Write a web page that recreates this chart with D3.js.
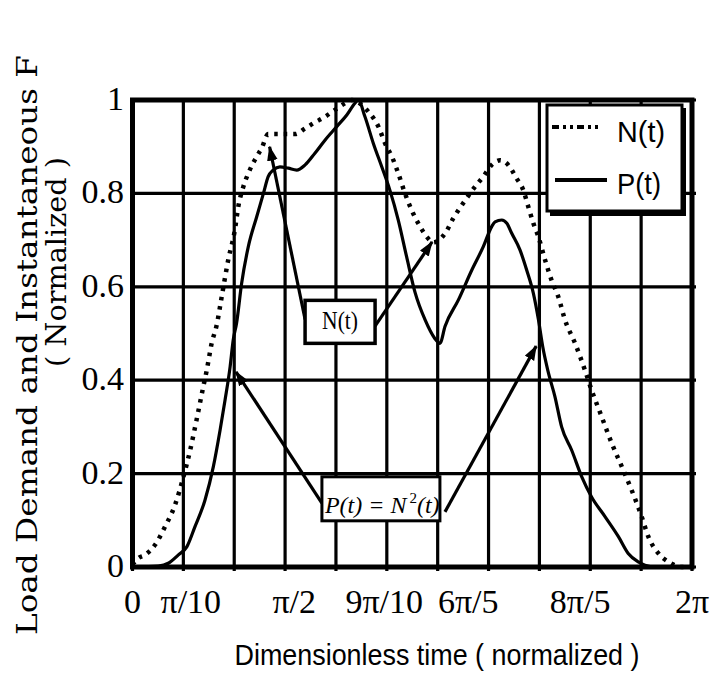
<!DOCTYPE html>
<html>
<head>
<meta charset="utf-8">
<script src="https://cdn.jsdelivr.net/npm/d3@7"></script>
<style>
body { margin: 0; background: #fff; }
</style>
</head>
<body>
<div id="chart"></div>
<script>
// time is kept in multiples of pi
var nTime = [0, 0.021, 0.045, 0.080, 0.116, 0.152, 0.182, 0.206, 0.229, 0.253, 0.265, 0.283, 0.301, 0.319, 0.342, 0.366, 0.378, 0.396, 0.414, 0.444, 0.462, 0.485, 0.581, 0.617, 0.646, 0.688, 0.724, 0.760, 0.784, 0.843, 0.879, 0.903, 0.927, 0.950, 0.974, 0.998, 1.028, 1.052, 1.075, 1.117, 1.147, 1.182, 1.224, 1.254, 1.284, 1.314, 1.343, 1.373, 1.397, 1.415, 1.433, 1.451, 1.475, 1.498, 1.522, 1.546, 1.582, 1.617, 1.641, 1.677, 1.713, 1.749, 1.784, 1.820, 1.844, 1.880, 1.916, 1.963, 2.0];
var nLoad = [0.005, 0.019, 0.026, 0.047, 0.086, 0.133, 0.193, 0.25, 0.315, 0.386, 0.42, 0.479, 0.518, 0.579, 0.657, 0.722, 0.771, 0.814, 0.843, 0.879, 0.897, 0.927, 0.927, 0.939, 0.95, 0.964, 0.979, 0.993, 1.0, 0.975, 0.943, 0.907, 0.879, 0.843, 0.8, 0.764, 0.729, 0.707, 0.695, 0.714, 0.747, 0.779, 0.814, 0.836, 0.861, 0.871, 0.861, 0.832, 0.807, 0.771, 0.736, 0.707, 0.657, 0.614, 0.579, 0.529, 0.479, 0.422, 0.379, 0.322, 0.265, 0.215, 0.165, 0.108, 0.065, 0.029, 0.011, 0.0, 0.0];

var pTime = [0.01, 0.092, 0.128, 0.164, 0.194, 0.223, 0.259, 0.289, 0.313, 0.331, 0.349, 0.360, 0.372, 0.390, 0.414, 0.444, 0.468, 0.485, 0.503, 0.527, 0.557, 0.587, 0.617, 0.652, 0.688, 0.730, 0.766, 0.795, 0.807, 0.831, 0.861, 0.891, 0.920, 0.950, 0.980, 1.010, 1.046, 1.080, 1.099, 1.117, 1.165, 1.213, 1.254, 1.284, 1.296, 1.320, 1.338, 1.356, 1.385, 1.409, 1.433, 1.451, 1.467, 1.485, 1.510, 1.534, 1.570, 1.606, 1.641, 1.689, 1.737, 1.772, 1.808, 1.832, 1.868, 2.0];
var pPower = [0.0, 0.002, 0.008, 0.026, 0.043, 0.086, 0.143, 0.215, 0.293, 0.358, 0.429, 0.486, 0.522, 0.607, 0.686, 0.75, 0.8, 0.836, 0.85, 0.857, 0.854, 0.85, 0.861, 0.886, 0.914, 0.943, 0.968, 0.993, 1.0, 0.964, 0.907, 0.857, 0.807, 0.743, 0.664, 0.588, 0.529, 0.49, 0.479, 0.515, 0.572, 0.636, 0.686, 0.729, 0.739, 0.743, 0.736, 0.714, 0.679, 0.636, 0.586, 0.53, 0.47, 0.42, 0.365, 0.30, 0.25, 0.193, 0.15, 0.108, 0.065, 0.029, 0.011, 0.004, 0.0, 0.0];

var xTickValues = [0, 0.1, 0.5, 0.9, 1.2, 1.6, 2];
var xTickLabels = ['0', 'π/10', 'π/2', '9π/10', '6π/5', '8π/5', '2π'];
var yTickValues = [0, 0.2, 0.4, 0.6, 0.8, 1];
var yTickLabels = ['0', '0.2', '0.4', '0.6', '0.8', '1'];
var seriesNames = ['N(t)', 'P(t)'];

// callouts: box centre and arrow ends in data units (t in multiples of pi)
var calloutBoxes = [
	{ label: 'N(t)', t: 0.742, v: 0.526 },
	{ label: 'P(t) = N2(t)', t: 0.888, v: 0.146 }
];
var calloutArrows = [
	{ t0: 0.617, v0: 0.53, t1: 0.49, v1: 0.90 },
	{ t0: 0.867, v0: 0.516, t1: 1.071, v1: 0.696 },
	{ t0: 0.677, v0: 0.137, t1: 0.370, v1: 0.418 },
	{ t0: 1.117, v0: 0.118, t1: 1.443, v1: 0.473 }
];

(function(){
	var width = 715, height = 677;
	var left = 132.5, right = 692, plotTop = 100, bottom = 567;

	var svg = d3.select('#chart').append('svg')
		.attr('width', width)
		.attr('height', height);

	var x = d3.scaleLinear().domain([0, 2 * Math.PI]).range([left, right]);
	var y = d3.scaleLinear().domain([0, 1]).range([bottom, plotTop]);

	var defs = svg.append('defs');
	defs.append('marker')
		.attr('id', 'head')
		.attr('viewBox', '0 0 14 10')
		.attr('refX', 13).attr('refY', 5)
		.attr('markerWidth', 15).attr('markerHeight', 11)
		.attr('markerUnits', 'userSpaceOnUse')
		.attr('orient', 'auto')
		.append('path')
		.attr('d', 'M0,0 L14,5 L0,10 Z')
		.attr('fill', 'black');

	// grid: 11 equal columns, rows at the y ticks
	var cols = d3.range(12).map(function(i){ return i * 2 * Math.PI / 11; });
	svg.append('g').selectAll('line')
		.data(cols).enter()
		.append('line')
		.attr('x1', function(d){ return x(d); })
		.attr('x2', function(d){ return x(d); })
		.attr('y1', plotTop)
		.attr('y2', bottom + 4)
		.attr('stroke', 'black')
		.attr('stroke-width', 3.2);
	svg.append('g').selectAll('line')
		.data(yTickValues).enter()
		.append('line')
		.attr('x1', left)
		.attr('x2', right + 4)
		.attr('y1', function(d){ return y(d); })
		.attr('y2', function(d){ return y(d); })
		.attr('stroke', 'black')
		.attr('stroke-width', 3.2);

	var line = d3.line()
		.x(function(d){ return x(d[0] * Math.PI); })
		.y(function(d){ return y(d[1]); })
		.curve(d3.curveMonotoneX);

	var nPoints = nTime.map(function(t, i){ return [t, nLoad[i]]; });
	var pPoints = pTime.map(function(t, i){ return [t, pPower[i]]; });

	svg.append('path')
		.attr('d', line(nPoints))
		.attr('fill', 'none')
		.attr('stroke', 'black')
		.attr('stroke-width', 4.5)
		.attr('stroke-dasharray', '3.5,6');
	svg.append('path')
		.attr('d', line(pPoints))
		.attr('fill', 'none')
		.attr('stroke', 'black')
		.attr('stroke-width', 3.2)
		.attr('stroke-linejoin', 'round');

	// callout arrows
	svg.append('g').selectAll('line')
		.data(calloutArrows).enter()
		.append('line')
		.attr('x1', function(d){ return x(d.t0 * Math.PI); })
		.attr('y1', function(d){ return y(d.v0); })
		.attr('x2', function(d){ return x(d.t1 * Math.PI); })
		.attr('y2', function(d){ return y(d.v1); })
		.attr('stroke', 'black')
		.attr('stroke-width', 3.2)
		.attr('marker-end', 'url(#head)');

	// callout boxes
	var b1 = calloutBoxes[0];
	svg.append('rect')
		.attr('x', x(b1.t * Math.PI) - 35).attr('y', y(b1.v) - 21)
		.attr('width', 70).attr('height', 43)
		.attr('fill', 'white').attr('stroke', 'black').attr('stroke-width', 3.5);
	svg.append('text')
		.attr('x', x(b1.t * Math.PI)).attr('y', y(b1.v) + 8)
		.attr('text-anchor', 'middle')
		.attr('font-family', 'Liberation Serif')
		.attr('font-size', 25)
		.attr('textLength', 36).attr('lengthAdjust', 'spacingAndGlyphs')
		.text(b1.label);

	var b2 = calloutBoxes[1];
	svg.append('rect')
		.attr('x', x(b2.t * Math.PI) - 59).attr('y', y(b2.v) - 22)
		.attr('width', 118).attr('height', 44)
		.attr('fill', 'white').attr('stroke', 'black').attr('stroke-width', 3);
	var t2 = svg.append('text')
		.attr('x', x(b2.t * Math.PI) - 56).attr('y', y(b2.v) + 14)
		.attr('font-family', 'Liberation Serif')
		.attr('font-style', 'italic')
		.attr('font-size', 24);
	t2.append('tspan').text('P(t) = N');
	t2.append('tspan').attr('dy', -10).attr('dx', 3).attr('font-size', 15).attr('font-style', 'normal').text('2');
	t2.append('tspan').attr('dy', 10).text('(t)');

	// legend
	var lg = svg.append('g');
	lg.append('rect').attr('x', 550).attr('y', 108).attr('width', 136).attr('height', 108).attr('fill', 'black');
	lg.append('rect').attr('x', 547).attr('y', 105).attr('width', 135).attr('height', 106)
		.attr('fill', 'white').attr('stroke', 'black').attr('stroke-width', 3);
	lg.append('line').attr('x1', 552).attr('x2', 600).attr('y1', 127).attr('y2', 127)
		.attr('stroke', 'black').attr('stroke-width', 4).attr('stroke-dasharray', '7,4,3,4,3,4');
	lg.append('line').attr('x1', 555).attr('x2', 607).attr('y1', 180).attr('y2', 180)
		.attr('stroke', 'black').attr('stroke-width', 4);
	lg.selectAll('text.leg')
		.data(seriesNames).enter()
		.append('text')
		.attr('class', 'leg')
		.attr('x', 617)
		.attr('y', function(d, i){ return 142 + i * 52; })
		.attr('font-family', 'Liberation Sans')
		.attr('font-size', 30)
		.attr('textLength', function(d, i){ return i ? 44 : 48; })
		.attr('lengthAdjust', 'spacingAndGlyphs')
		.text(function(d){ return d; });

	// frame
	svg.append('rect')
		.attr('x', left).attr('y', plotTop)
		.attr('width', right - left).attr('height', bottom - plotTop)
		.attr('fill', 'none').attr('stroke', 'black').attr('stroke-width', 5);

	// tick labels
	svg.append('g').selectAll('text')
		.data(yTickValues).enter()
		.append('text')
		.attr('x', 124)
		.attr('y', function(d){ return y(d) + 10; })
		.attr('text-anchor', 'end')
		.attr('font-family', 'Liberation Serif')
		.attr('font-size', 34)
		.text(function(d, i){ return yTickLabels[i]; });
	svg.append('g').selectAll('text')
		.data(xTickValues).enter()
		.append('text')
		.attr('x', function(d){ return x(d * Math.PI); })
		.attr('y', 613)
		.attr('text-anchor', function(d){ return (d === 0.1 || d === 0.5) ? 'start' : 'middle'; })
		.attr('font-family', 'Liberation Serif')
		.attr('font-size', 34)
		.text(function(d, i){ return xTickLabels[i]; });

	// axis titles
	svg.append('text')
		.attr('x', 437).attr('y', 665)
		.attr('text-anchor', 'middle')
		.attr('font-family', 'Liberation Sans')
		.attr('font-size', 30)
		.attr('textLength', 405).attr('lengthAdjust', 'spacingAndGlyphs')
		.text('Dimensionless time ( normalized )');
	svg.append('text')
		.attr('transform', 'translate(37,345) rotate(-90)')
		.attr('text-anchor', 'middle')
		.attr('font-family', 'DejaVu Serif')
		.attr('font-size', 27)
		.attr('textLength', 580).attr('lengthAdjust', 'spacingAndGlyphs')
		.text('Load Demand and Instantaneous F');
	svg.append('text')
		.attr('transform', 'translate(66,262) rotate(-90)')
		.attr('text-anchor', 'middle')
		.attr('font-family', 'DejaVu Serif')
		.attr('font-size', 27)
		.attr('textLength', 210).attr('lengthAdjust', 'spacingAndGlyphs')
		.text('( Normalized )');
})();
</script>
</body>
</html>
